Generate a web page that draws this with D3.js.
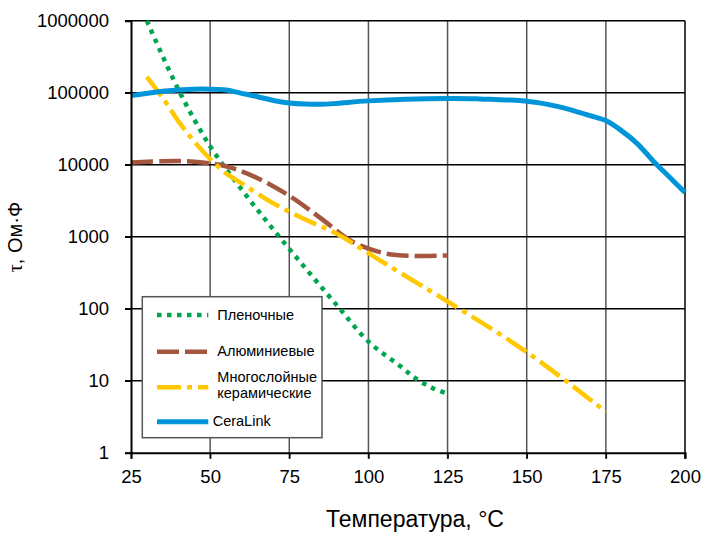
<!DOCTYPE html>
<html>
<head>
<meta charset="utf-8">
<script src="https://cdn.jsdelivr.net/npm/d3@7"></script>
<style>
  body { margin: 0; background: #fff; }
  text { font-family: "Liberation Sans", Arial, sans-serif; }
</style>
</head>
<body>
<div id="chart"></div>
<script>
// data
const filmT = [30, 40, 50, 60, 70, 80, 90, 100, 110, 115, 120, 125];
const filmV = [1000000, 110000, 18000, 4500, 1250, 370, 112, 35, 16, 10.7, 8, 6.6];

const aluT = [25, 35, 45, 55, 65, 75, 85, 95, 105, 115, 125];
const aluV = [10700, 11200, 11000, 9500, 6500, 3700, 1800, 850, 590, 540, 550];

const ceramT = [30, 35, 40, 45, 50, 55, 60, 70, 80, 90, 100, 110, 125, 150, 175];
const ceramV = [166000, 85000, 40000, 21000, 12000, 7600, 5500, 2900, 1740, 1100, 590, 316, 126, 25, 3.7];

const ceraT = [25, 35, 45, 50, 55, 60, 65, 70, 75, 80, 85, 90, 100, 125, 135, 140, 145, 150, 155, 160, 165, 170, 175, 180, 185, 190, 195, 200];
const ceraV = [91000, 105000, 112000, 112000, 109000, 98000, 88000, 78000, 72000, 69500, 69000, 71000, 77000, 83000, 82000, 80500, 79000, 76000, 71000, 64000, 56000, 48000, 41000, 29500, 19500, 11200, 6800, 4100];

const xTicks = [25, 50, 75, 100, 125, 150, 175, 200];
const yTicks = [1, 10, 100, 1000, 10000, 100000, 1000000];

const series = [
    { name: ["Пленочные"], t: filmT, v: filmV, color: "#00a550", dash: "4.5,5.5", width: 4.5 },
    { name: ["Алюминиевые"], t: aluT, v: aluV, color: "#a5563f", dash: "22,6", width: 4.5 },
    { name: ["Многослойные", "керамические"], t: ceramT, v: ceramV, color: "#ffc800", dash: "24,6,5,6", width: 4.5 },
    { name: ["CeraLink"], t: ceraT, v: ceraV, color: "#0095d9", dash: null, width: 5 }
];

const margin = { top: 20.7, right: 17, bottom: 82.3, left: 131 },
    W = 702, H = 535,
    width = W - margin.left - margin.right,
    height = H - margin.top - margin.bottom;

const svg = d3.select("#chart")
    .append("svg")
    .attr("width", W)
    .attr("height", H);

const g = svg.append("g")
    .attr("transform", `translate(${margin.left},${margin.top})`);

const x = d3.scaleLinear().domain([25, 200]).range([0, width]);
const y = d3.scaleLog().domain([1, 1000000]).range([height, 0]);

// grid
g.append("g")
    .selectAll("line")
    .data(xTicks.slice(1))
    .join("line")
    .attr("x1", d => x(d)).attr("x2", d => x(d))
    .attr("y1", 0).attr("y2", height + 6)
    .attr("stroke", d => d === 200 ? "#000" : "#555")
    .attr("stroke-width", 1.5);

g.append("g")
    .selectAll("line")
    .data(yTicks.slice(1))
    .join("line")
    .attr("x1", -6).attr("x2", width)
    .attr("y1", d => y(d)).attr("y2", d => y(d))
    .attr("stroke", "#000")
    .attr("stroke-width", 1.5);

// curves
const line = d3.line()
    .x(d => x(d[0]))
    .y(d => y(d[1]))
    .curve(d3.curveCatmullRom.alpha(0.5));

series.forEach(s => {
    g.append("path")
        .datum(s.t.map((t, i) => [t, s.v[i]]))
        .attr("d", line)
        .attr("fill", "none")
        .attr("stroke", s.color)
        .attr("stroke-width", s.width)
        .attr("stroke-dasharray", s.dash);
});

// axes
const yAxis = g.append("g")
    .call(d3.axisLeft(y).tickValues(yTicks).tickFormat(d3.format("d")).tickSize(6).tickPadding(16));
const xAxis = g.append("g")
    .attr("transform", `translate(0,${height})`)
    .call(d3.axisBottom(x).tickValues(xTicks).tickSize(6).tickPadding(11));

[yAxis, xAxis].forEach(a => {
    a.select(".domain").attr("stroke", "#000").attr("stroke-width", 2);
    a.selectAll(".tick line").attr("stroke", "#000").attr("stroke-width", 1.5);
    a.selectAll("text")
        .attr("font-family", "Liberation Sans, Arial, sans-serif")
        .attr("font-size", "18.5px")
        .attr("fill", "#000");
});

// legend
const lg = svg.append("g");
lg.append("rect")
    .attr("x", 142.3).attr("y", 296.7)
    .attr("width", 179.7).attr("height", 141)
    .attr("fill", "#fff")
    .attr("stroke", "#555")
    .attr("stroke-width", 1.5);

const rowY = [315, 351.7, 387.3, 421.7];
const textY = [[319.6], [355.6], [381.9], [426.2]];
series.forEach((s, i) => {
    lg.append("line")
        .attr("x1", 157).attr("x2", 208.3)
        .attr("y1", rowY[i]).attr("y2", rowY[i])
        .attr("stroke", s.color)
        .attr("stroke-width", s.width)
        .attr("stroke-dasharray", s.dash);
    s.name.forEach((n, j) => {
        lg.append("text")
            .attr("x", i === 3 ? 212.7 : 217.3)
            .attr("y", textY[i][0] + j * 15.6)
            .attr("font-size", "14.5px")
            .attr("fill", "#000")
            .text(n);
    });
});

// axis titles
svg.append("text")
    .attr("x", 415).attr("y", 527)
    .attr("text-anchor", "middle")
    .attr("font-size", "23px")
    .attr("fill", "#000")
    .text("Температура, °C");

const yt = svg.append("text")
    .attr("transform", "translate(22,237) rotate(-90)")
    .attr("text-anchor", "middle")
    .attr("font-size", "20px")
    .attr("fill", "#000");
yt.append("tspan").attr("font-family", "Liberation Serif, serif").text("τ");
yt.append("tspan").text(", Ом·Ф");
</script>
</body>
</html>
